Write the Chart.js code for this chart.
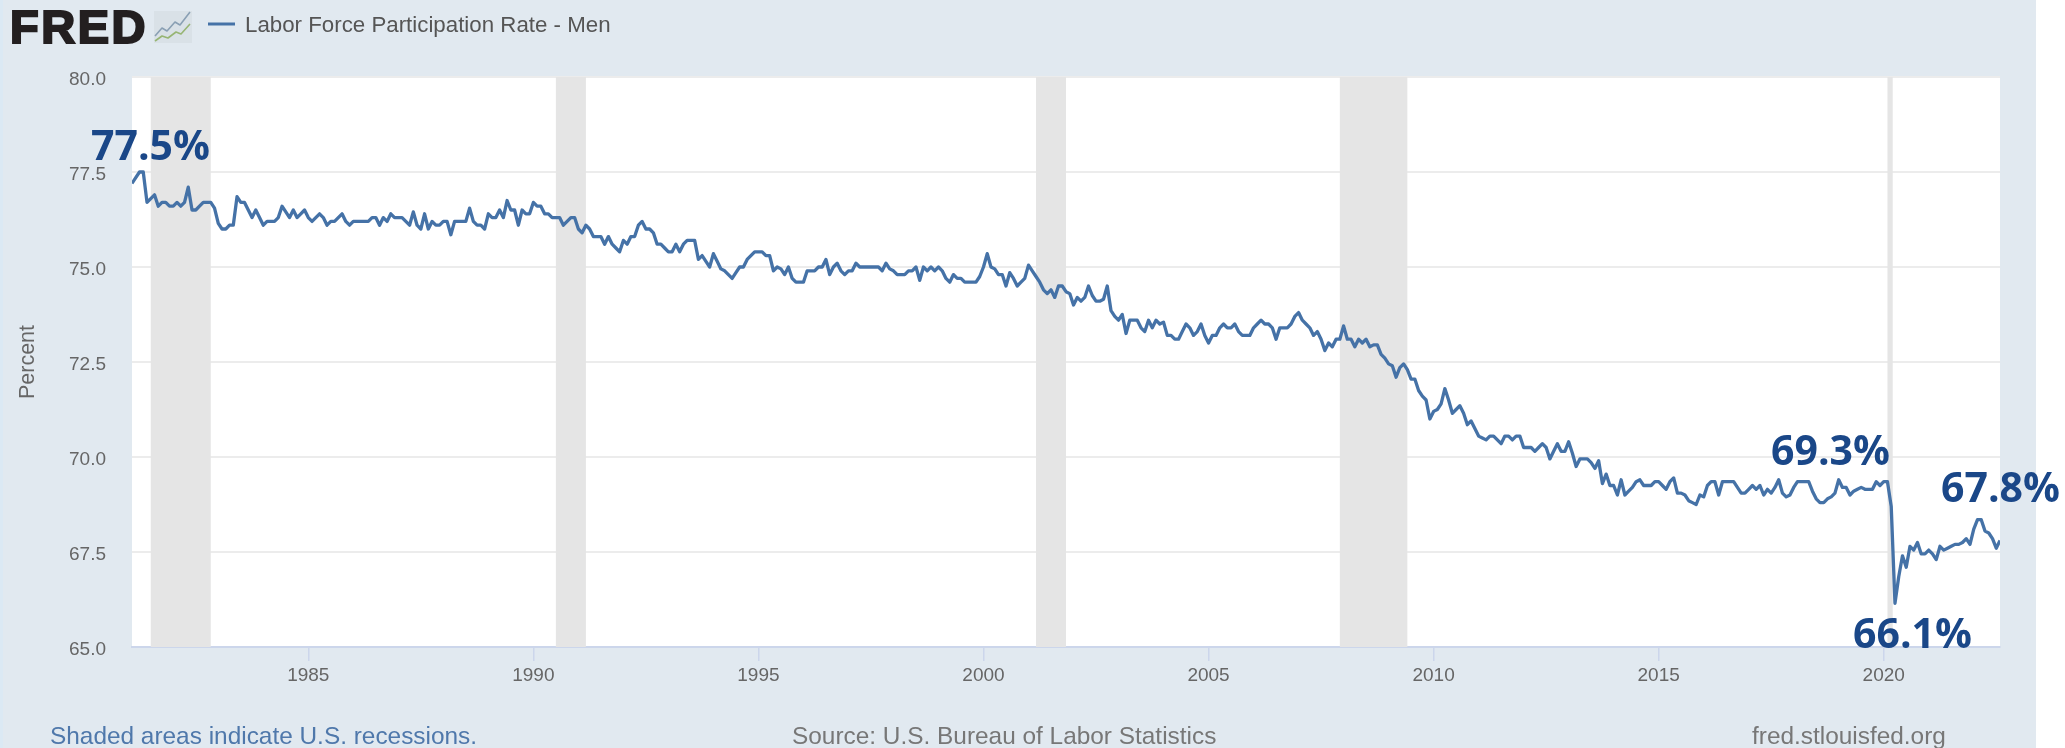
<!DOCTYPE html>
<html>
<head>
<meta charset="utf-8">
<title>Labor Force Participation Rate - Men</title>
<script src="https://cdn.jsdelivr.net/npm/chart.js@4"></script>
<style>
html,body{margin:0;padding:0;background:#fff;overflow:hidden}
canvas{display:block}
</style>
</head>
<body>
<canvas id="c" width="2065" height="748"></canvas>
<script>
const seriesName = 'Labor Force Participation Rate - Men';
const firstMonth = 1981 + 1/12;
const values1981 = [
77.2,77.35,77.5,77.5,76.7,76.8,76.9,76.6,76.7,76.7,76.6,
76.6,76.7,76.6,76.7,77.1,76.5,76.5,76.6,76.7,76.7,76.7,76.55,
76.15,76.0,76.0,76.1,76.1,76.85,76.7,76.7,76.5,76.3,76.5,76.3,
76.1,76.2,76.2,76.2,76.3,76.6,76.45,76.3,76.5,76.3,76.4,76.5,
76.3,76.2,76.3,76.4,76.3,76.1,76.2,76.2,76.3,76.4,76.2,76.1,
76.2,76.2,76.2,76.2,76.2,76.3,76.3,76.1,76.3,76.2,76.4,76.3,
76.3,76.3,76.2,76.1,76.45,76.1,76.0,76.4,76.0,76.2,76.1,76.1,
76.2,76.2,75.85,76.2,76.2,76.2,76.2,76.55,76.2,76.1,76.1,76.0,
76.4,76.3,76.3,76.5,76.3,76.75,76.5,76.5,76.1,76.5,76.4,76.4
];
const values1990 = [
76.7,76.6,76.6,76.4,76.4,76.3,76.3,76.3,76.1,76.2,76.3,76.3,
76.0,75.9,76.1,76.0,75.8,75.8,75.8,75.6,75.8,75.6,75.5,75.4,
75.7,75.6,75.8,75.8,76.1,76.2,76.0,76.0,75.9,75.6,75.6,75.5,
75.4,75.4,75.6,75.4,75.6,75.7,75.7,75.7,75.2,75.3,75.15,75.0,
75.35,75.15,74.95,74.9,74.8,74.7,74.85,75.0,75.0,75.2,75.3,75.4,
75.4,75.4,75.3,75.3,74.9,75.0,74.95,74.8,75.0,74.7,74.6,74.6,
74.6,74.9,74.9,74.9,75.0,75.0,75.2,74.8,75.0,75.1,74.9,74.8,
74.9,74.9,75.1,75.0,75.0,75.0,75.0,75.0,75.0,74.9,75.1,74.95,
74.9,74.8,74.8,74.8,74.9,74.9,75.0,74.65,75.0,74.9,75.0,74.9,
75.0,74.9,74.7,74.6,74.8,74.7,74.7,74.6,74.6,74.6,74.6,74.75
];
const values2000 = [
75.0,75.35,75.0,74.95,74.8,74.8,74.5,74.85,74.7,74.5,74.6,74.7,
75.05,74.9,74.75,74.6,74.4,74.3,74.4,74.2,74.5,74.5,74.35,74.3,
74.0,74.2,74.1,74.2,74.5,74.25,74.1,74.1,74.15,74.5,73.85,73.7,
73.6,73.75,73.25,73.6,73.6,73.6,73.4,73.3,73.6,73.4,73.6,73.5,
73.55,73.2,73.2,73.1,73.1,73.3,73.5,73.4,73.2,73.3,73.5,73.2,
73.0,73.2,73.2,73.4,73.5,73.4,73.4,73.5,73.3,73.2,73.2,73.2,
73.4,73.5,73.6,73.5,73.5,73.4,73.1,73.4,73.4,73.4,73.5,73.7,
73.8,73.6,73.5,73.4,73.2,73.3,73.1,72.8,73.0,72.9,73.1,73.1,
73.45,73.1,73.1,72.9,73.1,73.0,73.1,72.9,72.95,72.95,72.7,72.6,
72.45,72.4,72.1,72.35,72.45,72.3,72.05,72.05,71.75,71.6,71.5,71.0
];
const values2010 = [
71.2,71.25,71.4,71.8,71.5,71.15,71.25,71.35,71.15,70.85,70.95,70.75,
70.55,70.5,70.45,70.55,70.55,70.45,70.35,70.55,70.55,70.45,70.55,70.55,
70.25,70.25,70.25,70.15,70.25,70.35,70.25,69.95,70.15,70.35,70.15,70.15,
70.4,70.1,69.75,69.95,69.95,69.95,69.85,69.7,69.9,69.3,69.55,69.25,
69.25,69.0,69.4,69.0,69.1,69.2,69.35,69.4,69.25,69.25,69.25,69.35,
69.35,69.25,69.15,69.35,69.45,69.05,69.05,69.0,68.85,68.8,68.75,69.0,
68.95,69.25,69.35,69.35,69.0,69.35,69.35,69.35,69.35,69.2,69.05,69.05,
69.15,69.25,69.15,69.25,69.0,69.15,69.05,69.2,69.4,69.05,68.95,69.0,
69.2,69.35,69.35,69.35,69.35,69.1,68.9,68.8,68.8,68.9,68.95,69.05,
69.4,69.2,69.2,69.0,69.1,69.15,69.2,69.15,69.15,69.15,69.35,69.25
];
const values2020 = [
69.35,69.35,68.7,66.15,66.85,67.4,67.1,67.65,67.55,67.75,67.45,67.45,
67.55,67.45,67.3,67.65,67.55,67.6,67.65,67.7,67.7,67.75,67.85,67.7,
68.1,68.35,68.35,68.05,68.0,67.85,67.6,67.8
];
const allValues = [...values1981, ...values1990, ...values2000, ...values2010, ...values2020];
const xTickValues = [1985,1990,1995,2000,2005,2010,2015,2020];
const yTickValues = [65,67.5,70,72.5,75,77.5,80];
const recessionStarts = [1981.5,1990.5,2001.167,2007.917,2020.083];
const recessionEnds   = [1982.833,1991.167,2001.833,2009.417,2020.2];
const calloutTexts = ['77.5%','69.3%','67.8%','66.1%'];

const points = allValues.map((v,i)=>({x:firstMonth+i/12,y:v}));
const lastMonth = firstMonth+(allValues.length-1)/12;

const decor = {
  id:'decor',
  beforeDraw(chart){
    const c=chart.ctx, a=chart.chartArea;
    c.save();
    c.fillStyle='#e1e9f0'; c.fillRect(0,0,2036,748);
    c.fillStyle='#dbe9f4'; c.fillRect(0,0,3,748);
    c.fillStyle='#fff'; c.fillRect(a.left,a.top,a.right-a.left,a.bottom-a.top);
    c.restore();
  },
  beforeDatasetsDraw(chart){
    const c=chart.ctx, a=chart.chartArea, x=chart.scales.x;
    c.save();
    c.fillStyle='#e5e5e5';
    recessionStarts.forEach((s,i)=>{
      const l=x.getPixelForValue(s), r=x.getPixelForValue(recessionEnds[i]);
      c.fillRect(l,a.top,r-l,a.bottom-a.top);
    });
    c.restore();
  },
  afterDraw(chart){
    const c=chart.ctx;
    c.save();
    c.textBaseline='alphabetic'; c.textAlign='left';
    // logo wordmark
    c.fillStyle='#231f20'; c.font='bold 47px "Liberation Sans"'; c.letterSpacing='2.5px';
    c.strokeStyle='#231f20'; c.lineWidth=2.2;
    c.fillText('FRED',10,43); c.strokeText('FRED',10,43);
    c.letterSpacing='0px';
    // logo icon
    c.fillStyle='#d9e1e7'; c.fillRect(154,11,38,32);
    c.lineWidth=1.6; c.lineJoin='round';
    c.strokeStyle='#8aa0b4'; c.beginPath();
    [[155,36],[162,28],[167,31],[175,22],[180,25],[190,12]].forEach((p,i)=>i?c.lineTo(p[0],p[1]):c.moveTo(p[0],p[1])); c.stroke();
    c.strokeStyle='#97b574'; c.beginPath();
    [[155,41],[162,36],[168,38],[176,32],[181,34],[190,24]].forEach((p,i)=>i?c.lineTo(p[0],p[1]):c.moveTo(p[0],p[1])); c.stroke();
    // legend
    c.strokeStyle='#4572a7'; c.lineWidth=3;
    c.beginPath(); c.moveTo(208,24); c.lineTo(235,24); c.stroke();
    c.fillStyle='#555'; c.font='22.3px "Liberation Sans"';
    c.fillText(seriesName,245,32);
    // footer
    c.font='24.4px "Liberation Sans"';
    c.fillStyle='#4f78ab'; c.fillText('Shaded areas indicate U.S. recessions.',50,744);
    c.fillStyle='#777'; c.fillText('Source: U.S. Bureau of Labor Statistics',792,744);
    c.fillText('fred.stlouisfed.org',1752,744);
    // callouts
    c.fillStyle='#1a4788'; c.font='bold 41px "Open Sans"';
    c.fillText(calloutTexts[0],91,160);
    c.fillText(calloutTexts[1],1771,465);
    c.fillText(calloutTexts[2],1941,502);
    c.fillText(calloutTexts[3],1853,648);
    c.restore();
  }
};

new Chart(document.getElementById('c'),{
  type:'line',
  data:{datasets:[{label:seriesName,data:points,borderColor:'#4572a7',borderWidth:3.3,pointRadius:0,tension:0,fill:false,borderJoinStyle:'round'}]},
  plugins:[decor],
  options:{
    responsive:false,animation:false,
    parsing:false,normalized:true,
    layout:{padding:{left:0,right:65,top:77,bottom:0}},
    plugins:{legend:{display:false},title:{display:false},tooltip:{enabled:false}},
    scales:{
      x:{
        type:'linear',min:firstMonth,max:lastMonth,
        afterFit(s){s.height=101;},
        afterBuildTicks(s){s.ticks=xTickValues.map(v=>({value:v}));},
        grid:{drawOnChartArea:false,drawTicks:true,tickLength:14,color:'#ccd6eb',lineWidth:1.5},
        border:{display:true,color:'#ccd6eb',width:2},
        ticks:{autoSkip:false,maxRotation:0,padding:3,color:'#666',font:{family:'"Liberation Sans"',size:19},callback:v=>String(v)}
      },
      y:{
        min:65,max:80,
        afterFit(s){s.width=132;},
        afterBuildTicks(s){s.ticks=yTickValues.map(v=>({value:v}));},
        grid:{color:'#ececec',lineWidth:2,drawTicks:false},
        border:{display:false},
        title:{display:true,text:'Percent',color:'#666',font:{family:'"Liberation Sans"',size:21.5},padding:{top:15,bottom:0}},
        ticks:{padding:26,labelOffset:3,color:'#666',font:{family:'"Liberation Sans"',size:19},callback:v=>Number(v).toFixed(1)}
      }
    }
  }
});
</script>
</body>
</html>
